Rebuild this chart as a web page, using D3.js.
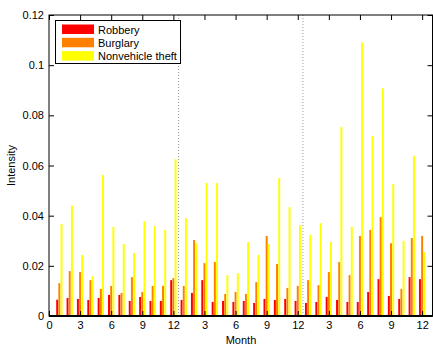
<!DOCTYPE html>
<html>
<head>
<meta charset="utf-8">
<script src="https://cdn.jsdelivr.net/npm/d3@7"></script>
<style>
    body { margin: 0; background: #fff; }
    text { font-family: "Liberation Sans", Arial, sans-serif; fill: #000; }
</style>
</head>
<body>
<svg id="chart" width="433" height="346"></svg>
<script>
'use strict';

// Valeurs (36 mois)
const robbery = [0.0065, 0.0072, 0.0068, 0.0064, 0.0072, 0.0084, 0.0084, 0.0060, 0.0076, 0.0060, 0.0060, 0.0143,
    0.0064, 0.0092, 0.0143, 0.0056, 0.0060, 0.0056, 0.0060, 0.0052, 0.0068, 0.0064, 0.0068, 0.0060,
    0.0052, 0.0056, 0.0076, 0.0064, 0.0056, 0.0056, 0.0096, 0.0147, 0.0080, 0.0068, 0.0155, 0.0147];
const burglary = [0.0131, 0.0179, 0.0175, 0.0143, 0.0108, 0.0120, 0.0092, 0.0155, 0.0096, 0.0120, 0.0120, 0.0151,
    0.0120, 0.0303, 0.0211, 0.0215, 0.0088, 0.0096, 0.0088, 0.0135, 0.0319, 0.0207, 0.0112, 0.0120,
    0.0143, 0.0123, 0.0175, 0.0215, 0.0163, 0.0319, 0.0343, 0.0394, 0.0290, 0.0108, 0.0311, 0.0319];
const nonvehicle = [0.0367, 0.0439, 0.0243, 0.0159, 0.0562, 0.0355, 0.0287, 0.0251, 0.0378, 0.0359, 0.0343, 0.0625,
    0.0390, 0.0290, 0.0530, 0.0530, 0.0163, 0.0171, 0.0295, 0.0243, 0.0287, 0.0550, 0.0434, 0.0362,
    0.0323, 0.0370, 0.0295, 0.0753, 0.0355, 0.1090, 0.0717, 0.0908, 0.0526, 0.0299, 0.0639, 0.0255];

const seriesNames = ["Robbery", "Burglary", "Nonvehicle theft"];
const seriesColors = ["#ff0000", "#ff8000", "#ffff00"];
const xTicks = [0, 3, 6, 9, 12, 15, 18, 21, 24, 27, 30, 33, 36];
const xTickLabels = ["0", "3", "6", "9", "12", "3", "6", "9", "12", "3", "6", "9", "12"];
const yTicks = [0, 0.02, 0.04, 0.06, 0.08, 0.1, 0.12];
const yearBreaks = [12.5, 24.5];

const svg = d3.select("#chart");
const mLeft = 49, mRight = 432.5, mTop = 15, mBottom = 316;

const x = d3.scaleLinear().domain([0, 37]).range([mLeft, mRight]);
const y = d3.scaleLinear().domain([0, 0.12]).range([mBottom, mTop]);

// Séparateurs d'année (pointillés)
svg.selectAll(".sep")
    .data(yearBreaks)
    .enter()
    .append("line")
    .attr("x1", d => x(d)).attr("x2", d => x(d))
    .attr("y1", mTop).attr("y2", mBottom)
    .attr("stroke", "#999")
    .attr("stroke-width", 1)
    .attr("stroke-dasharray", "1,2");

// Barres groupées
const series = [robbery, burglary, nonvehicle];
const offset = 0.21, barW = 0.19;
series.forEach((vals, s) => {
    svg.append("g")
        .selectAll("rect")
        .data(vals)
        .enter()
        .append("rect")
        .attr("x", (d, i) => x(i + 1 + (s - 1) * offset - barW / 2))
        .attr("width", x(barW) - x(0))
        .attr("y", d => y(d))
        .attr("height", d => y(0) - y(d))
        .attr("fill", seriesColors[s]);
});

// Axes (ticks vers l'intérieur, comme MATLAB)
const tick = 5;
svg.append("g")
    .attr("transform", `translate(0,${mBottom})`)
    .call(d3.axisBottom(x).tickValues(xTicks).tickFormat((d, i) => xTickLabels[i]).tickSizeInner(-tick).tickSizeOuter(0).tickPadding(5))
    .call(g => g.select(".domain").remove())
    .selectAll("text").style("font-size", "11px");

svg.append("g")
    .attr("transform", `translate(0,${mTop})`)
    .call(d3.axisTop(x).tickValues(xTicks).tickFormat("").tickSizeInner(-tick).tickSizeOuter(0))
    .call(g => g.select(".domain").remove());

svg.append("g")
    .attr("transform", `translate(${mLeft},0)`)
    .call(d3.axisLeft(y).tickValues(yTicks).tickFormat(d => d === 0 ? "0" : String(+d.toFixed(2))).tickSizeInner(-tick).tickSizeOuter(0).tickPadding(5))
    .call(g => g.select(".domain").remove())
    .selectAll("text").style("font-size", "11px");

svg.append("g")
    .attr("transform", `translate(${mRight},0)`)
    .call(d3.axisRight(y).tickValues(yTicks).tickFormat("").tickSizeInner(-tick).tickSizeOuter(0))
    .call(g => g.select(".domain").remove());

// Cadre
svg.append("rect")
    .attr("x", mLeft).attr("y", mTop)
    .attr("width", mRight - mLeft).attr("height", mBottom - mTop)
    .attr("fill", "none").attr("stroke", "#000").attr("stroke-width", 1);

// Ligne de base des barres
svg.append("line")
    .attr("x1", mLeft).attr("x2", mRight)
    .attr("y1", y(0)).attr("y2", y(0))
    .attr("stroke", "#000").attr("stroke-width", 2);

// Titres des axes
svg.append("text")
    .attr("x", 241).attr("y", 344)
    .attr("text-anchor", "middle")
    .style("font-size", "11px")
    .text("Month");

svg.append("text")
    .attr("transform", `translate(15,${(mTop + mBottom) / 2}) rotate(-90)`)
    .attr("text-anchor", "middle")
    .style("font-size", "11px")
    .text("Intensity");

// Légende
const legend = svg.append("g");
legend.append("rect")
    .attr("x", 55.5).attr("y", 20.5)
    .attr("width", 125).attr("height", 43)
    .attr("fill", "#fff").attr("stroke", "#000").attr("stroke-width", 1);
seriesNames.forEach((name, i) => {
    legend.append("rect")
        .attr("x", 62).attr("y", 24.5 + i * 13.3)
        .attr("width", 32).attr("height", 9.5)
        .attr("fill", seriesColors[i]);
    legend.append("text")
        .attr("x", 98).attr("y", 33.5 + i * 13.3)
        .style("font-size", "11px")
        .text(name);
});
</script>
</body>
</html>
